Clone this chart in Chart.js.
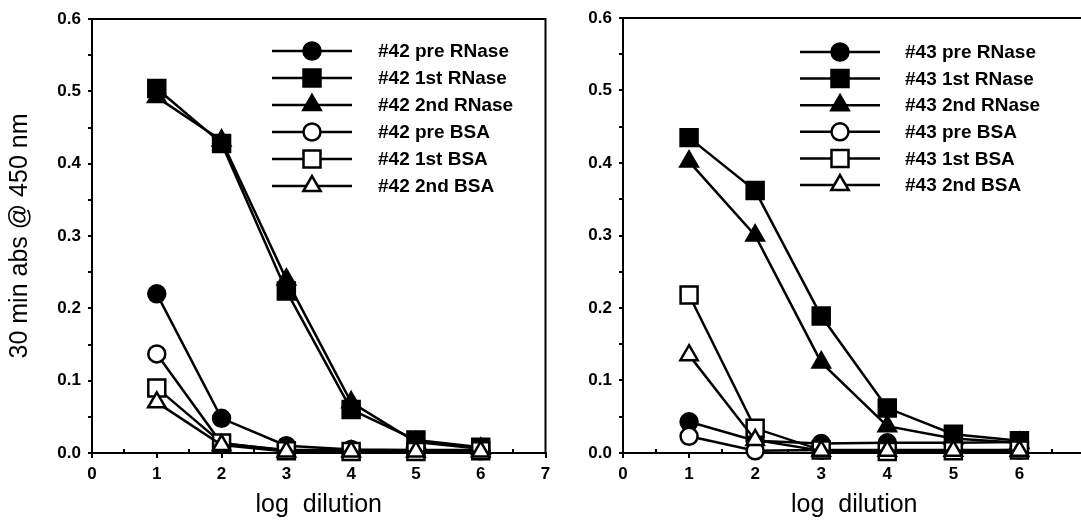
<!DOCTYPE html>
<html><head><meta charset="utf-8">
<script src="https://cdn.jsdelivr.net/npm/chart.js@4.4.1/dist/chart.umd.min.js"></script>
<style>
html,body{margin:0;padding:0;background:#fff;overflow:hidden;}
#wrap{position:relative;width:1081px;height:523px;overflow:hidden;background:#fff;}
#c1{position:absolute;left:0;top:0;width:560px;height:523px;}
#c2{position:absolute;left:560px;top:0;width:540px;height:523px;}
</style></head><body>
<div id="wrap"><canvas id="c1" width="560" height="523"></canvas><canvas id="c2" width="540" height="523"></canvas></div>
<script>
// ---- data ----
const dilutions = [1, 2, 3, 4, 5, 6];
const seriesNames = ['pre RNase', '1st RNase', '2nd RNase', 'pre BSA', '1st BSA', '2nd BSA'];
const xTicks = [0, 1, 2, 3, 4, 5, 6, 7];
const yTicks = [0.0, 0.1, 0.2, 0.3, 0.4, 0.5, 0.6];

// serum #42
const s42_preRNase = [0.220, 0.048, 0.010, 0.005, 0.004, 0.004];
const s42_1stRNase = [0.504, 0.428, 0.224, 0.060, 0.018, 0.008];
const s42_2ndRNase = [0.492, 0.432, 0.240, 0.070, 0.015, 0.006];
const s42_preBSA   = [0.137, 0.013, 0.004, 0.004, 0.003, 0.003];
const s42_1stBSA   = [0.090, 0.014, 0.003, 0.002, 0.002, 0.003];
const s42_2ndBSA   = [0.070, 0.011, 0.002, 0.002, 0.002, 0.002];

// serum #43
const s43_preRNase = [0.043, 0.017, 0.013, 0.014, 0.014, 0.015];
const s43_1stRNase = [0.435, 0.362, 0.189, 0.062, 0.026, 0.017];
const s43_2ndRNase = [0.402, 0.300, 0.125, 0.037, 0.020, 0.014];
const s43_preBSA   = [0.023, 0.003, 0.004, 0.004, 0.004, 0.004];
const s43_1stBSA   = [0.218, 0.034, 0.004, 0.002, 0.003, 0.004];
const s43_2ndBSA   = [0.135, 0.018, 0.003, 0.003, 0.003, 0.003];

// ---- styles ----
const markerStyles = [
  { pointStyle: 'circle',   fill: '#000', radius: 8.5, order: 5 },
  { pointStyle: 'rect',     fill: '#000', radius: 12,  order: 4 },
  { pointStyle: 'triangle', fill: '#000', radius: 10,  order: 3 },
  { pointStyle: 'circle',   fill: '#fff', radius: 8.5, order: 2 },
  { pointStyle: 'rect',     fill: '#fff', radius: 12,  order: 1 },
  { pointStyle: 'triangle', fill: '#fff', radius: 10,  order: 0 }
];

function makeDatasets(prefix, seriesList) {
  return seriesList.map((vals, i) => {
    const st = markerStyles[i];
    return {
      label: prefix + ' ' + seriesNames[i],
      data: dilutions.map((d, k) => ({ x: d, y: vals[k] })),
      borderColor: '#000',
      borderWidth: 2.5,
      backgroundColor: st.fill,
      pointStyle: st.pointStyle,
      pointRadius: st.radius,
      pointHoverRadius: st.radius,
      pointBackgroundColor: st.fill,
      pointBorderColor: '#000',
      pointBorderWidth: 2.5,
      tension: 0,
      fill: false,
      clip: false,
      order: st.order
    };
  });
}

function drawMarker(ctx, style, radius, x, y) {
  ctx.beginPath();
  if (style === 'circle') {
    ctx.arc(x, y, radius, 0, Math.PI * 2);
  } else if (style === 'rect') {
    const s = Math.SQRT1_2 * radius;
    ctx.rect(x - s, y - s, 2 * s, 2 * s);
  } else if (style === 'triangle') {
    let a = 0;
    ctx.moveTo(x + Math.sin(a) * radius, y - Math.cos(a) * radius);
    a += 2 * Math.PI / 3;
    ctx.lineTo(x + Math.sin(a) * radius, y - Math.cos(a) * radius);
    a += 2 * Math.PI / 3;
    ctx.lineTo(x + Math.sin(a) * radius, y - Math.cos(a) * radius);
    ctx.closePath();
  }
  ctx.fill();
  ctx.stroke();
}

const framePlugin = {
  id: 'frame',
  beforeDatasetsDraw(chart) {
    const ctx = chart.ctx, a = chart.chartArea, xs = chart.scales.x;
    ctx.save();
    ctx.strokeStyle = '#000';
    ctx.lineWidth = 2;
    ctx.beginPath();
    ctx.moveTo(a.left - 1, a.top);
    ctx.lineTo(a.right, a.top);
    ctx.lineTo(a.right, a.bottom + 1);
    ctx.stroke();
    // inward minor ticks on x axis at half units
    ctx.beginPath();
    for (let v = 0.5; v < xs.max; v += 1) {
      const px = Math.round(xs.getPixelForValue(v));
      ctx.moveTo(px, a.bottom);
      ctx.lineTo(px, a.bottom - 4);
    }
    ctx.stroke();
    ctx.restore();
  }
};

const legendPlugin = {
  id: 'seriesLegend',
  afterDraw(chart, args, o) {
    const ctx = chart.ctx;
    const sets = chart.data.datasets;
    ctx.save();
    sets.forEach((ds, i) => {
      const y = o.y0 + i * o.dy;
      ctx.strokeStyle = '#000';
      ctx.lineWidth = 2.5;
      ctx.beginPath();
      ctx.moveTo(o.x1, y);
      ctx.lineTo(o.x2, y);
      ctx.stroke();
      ctx.fillStyle = ds.pointBackgroundColor;
      drawMarker(ctx, ds.pointStyle, ds.pointRadius, (o.x1 + o.x2) / 2, y);
      ctx.fillStyle = '#000';
      ctx.font = o.font;
      ctx.textAlign = 'left';
      ctx.textBaseline = 'middle';
      ctx.fillText(ds.label, o.tx, y + 1);
    });
    ctx.restore();
  }
};

const tickFont = { family: "'Liberation Sans', Arial, sans-serif", size: 17, weight: 'bold' };
const titleFont = { family: "'Liberation Sans', Arial, sans-serif", size: 25, weight: 'normal' };
const yTitleFont = { family: "'Liberation Sans', Arial, sans-serif", size: 25, weight: 'normal' };

function makeChart(canvasId, datasets, opts) {
  return new Chart(document.getElementById(canvasId), {
    type: 'line',
    data: { datasets },
    options: {
      responsive: false,
      animation: false,
      devicePixelRatio: 1,
      events: [],
      layout: { padding: opts.padding },
      plugins: {
        legend: { display: false },
        tooltip: { enabled: false },
        seriesLegend: opts.legend
      },
      scales: {
        x: {
          type: 'linear',
          min: xTicks[0],
          max: xTicks[xTicks.length - 1],
          afterBuildTicks: (s) => { s.ticks = xTicks.map(v => ({ value: v })); },
          afterFit: (s) => { s.height = 70; },
          ticks: {
            color: '#000', font: tickFont, padding: 6, autoSkip: false, maxRotation: 0,
            callback: (v) => String(v)
          },
          grid: { drawOnChartArea: false, drawTicks: true, tickLength: 5, color: '#000', lineWidth: 2 },
          border: { display: true, color: '#000', width: 2 },
          title: { display: true, text: 'log  dilution', color: '#000', font: titleFont, padding: { top: 0, bottom: 3 } }
        },
        y: {
          type: 'linear',
          min: 0,
          max: 0.6,
          afterBuildTicks: (s) => {
            const t = [];
            for (let i = 0; i < yTicks.length; i++) {
              t.push({ value: yTicks[i] });
              if (i < yTicks.length - 1) t.push({ value: (yTicks[i] + yTicks[i + 1]) / 2, minor: true });
            }
            s.ticks = t;
          },
          afterFit: (s) => { s.width = opts.yWidth; },
          ticks: {
            color: '#000', font: tickFont, padding: 7, autoSkip: false,
            callback: (v) => (yTicks.some(t => Math.abs(t - v) < 1e-9) ? v.toFixed(1) : '')
          },
          grid: { drawOnChartArea: false, drawTicks: true, tickLength: 4, color: '#000', lineWidth: 2 },
          border: { display: true, color: '#000', width: 2 },
          title: { display: !!opts.yTitle, text: opts.yTitle || '', color: '#000', font: yTitleFont, padding: { top: 5, bottom: 0 } }
        }
      }
    },
    plugins: [framePlugin, legendPlugin]
  });
}

makeChart('c1',
  makeDatasets('#42', [s42_preRNase, s42_1stRNase, s42_2ndRNase, s42_preBSA, s42_1stBSA, s42_2ndBSA]),
  {
    padding: { left: 0, top: 19, right: 5, bottom: 0 },
    yWidth: 92,
    yTitle: '30 min abs @ 450 nm',
    legend: { x1: 272, x2: 352, tx: 378, y0: 51, dy: 27, font: "bold 19px 'Liberation Sans', Arial, sans-serif" }
  });

makeChart('c2',
  makeDatasets('#43', [s43_preRNase, s43_1stRNase, s43_2ndRNase, s43_preBSA, s43_1stBSA, s43_2ndBSA]),
  {
    padding: { left: 0, top: 18, right: 13, bottom: 0 },
    yWidth: 63,
    yTitle: null,
    legend: { x1: 240, x2: 320, tx: 345, y0: 52, dy: 26.6, font: "bold 19px 'Liberation Sans', Arial, sans-serif" }
  });
</script>
</body></html>
